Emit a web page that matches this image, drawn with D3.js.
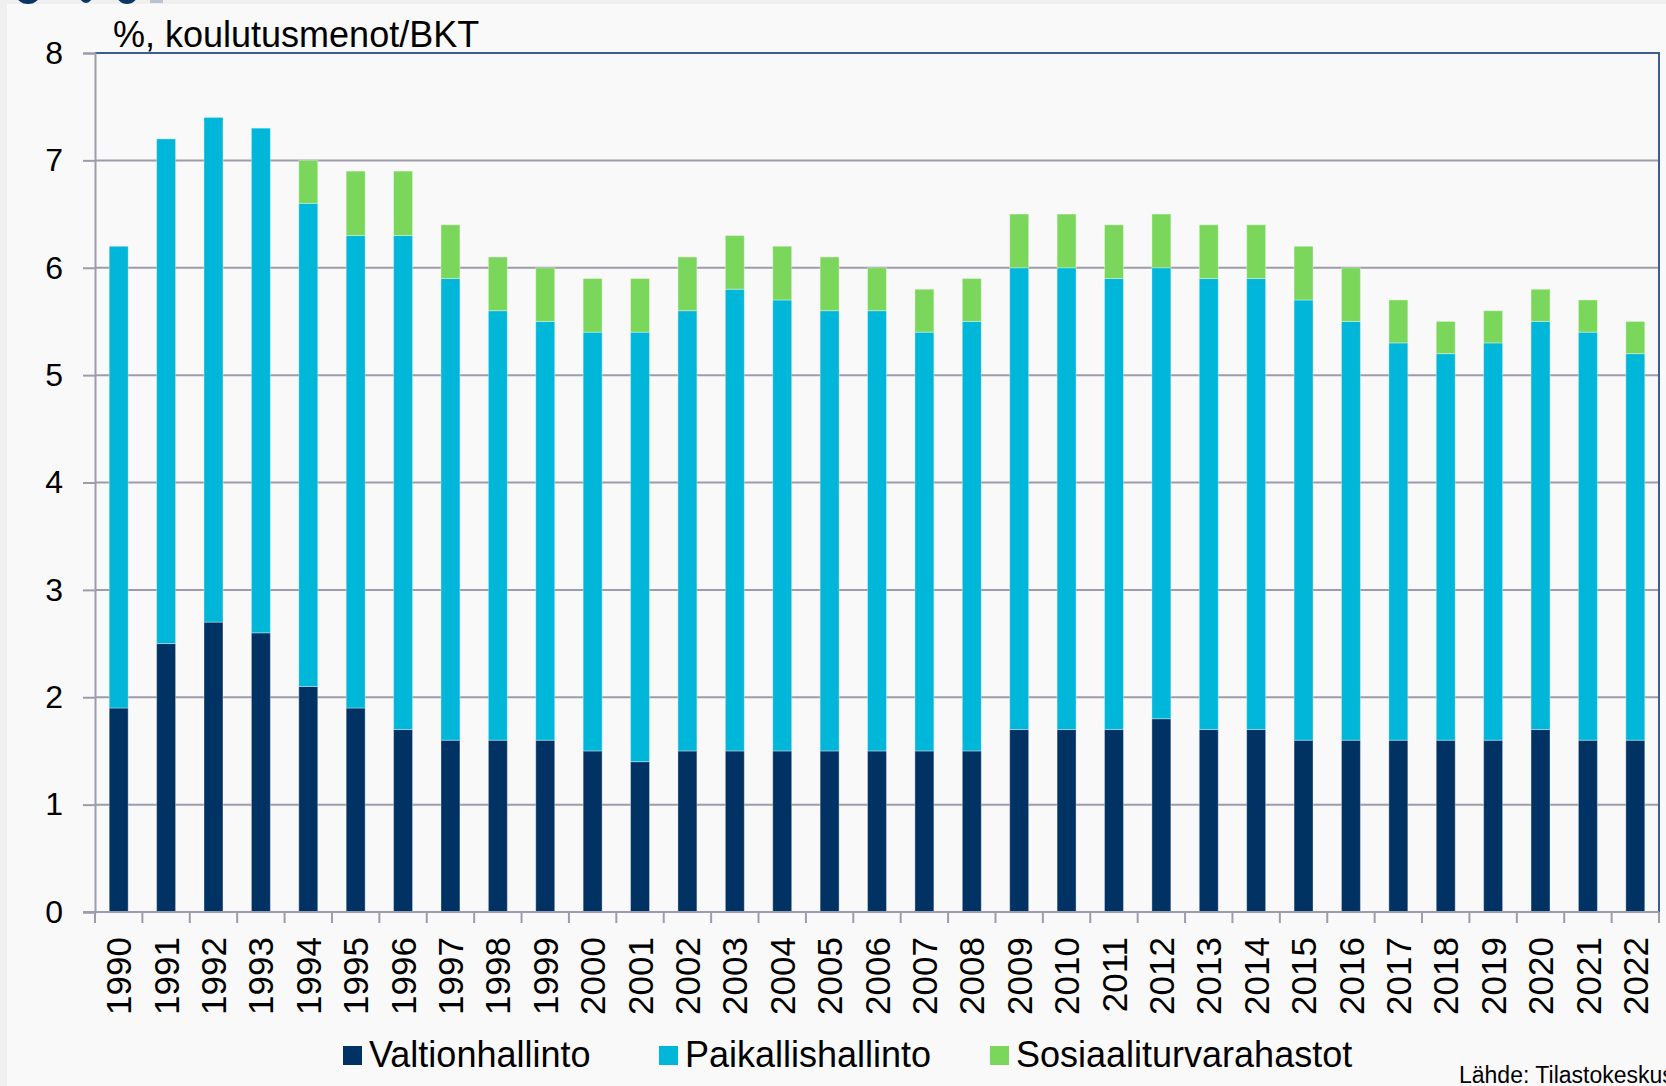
<!DOCTYPE html>
<html>
<head>
<meta charset="utf-8">
<script src="https://cdn.jsdelivr.net/npm/d3@7"></script>
<style>
  body { margin: 0; background: #efefef; }
  svg { display: block; }
</style>
</head>
<body>
<script>
// Data (% of GDP)
const years = d3.range(1990, 2023).map(String);
const valtionhallinto = [1.9, 2.5, 2.7, 2.6, 2.1, 1.9, 1.7, 1.6, 1.6, 1.6, 1.5, 1.4, 1.5, 1.5, 1.5, 1.5, 1.5, 1.5, 1.5, 1.7, 1.7, 1.7, 1.8, 1.7, 1.7, 1.6, 1.6, 1.6, 1.6, 1.6, 1.7, 1.6, 1.6];
const paikallishallinto = [4.3, 4.7, 4.7, 4.7, 4.5, 4.4, 4.6, 4.3, 4.0, 3.9, 3.9, 4.0, 4.1, 4.3, 4.2, 4.1, 4.1, 3.9, 4.0, 4.3, 4.3, 4.2, 4.2, 4.2, 4.2, 4.1, 3.9, 3.7, 3.6, 3.7, 3.8, 3.8, 3.6];
const sosiaaliturva = [0, 0, 0, 0, 0.4, 0.6, 0.6, 0.5, 0.5, 0.5, 0.5, 0.5, 0.5, 0.5, 0.5, 0.5, 0.4, 0.4, 0.4, 0.5, 0.5, 0.5, 0.5, 0.5, 0.5, 0.5, 0.5, 0.4, 0.3, 0.3, 0.3, 0.3, 0.3];
const seriesNames = ['Valtionhallinto', 'Paikallishallinto', 'Sosiaaliturvarahastot'];
const colors = ['#003263', '#00b6d9', '#7bd75b'];
const yTicks = [0, 1, 2, 3, 4, 5, 6, 7, 8];

const width = 1666, height = 1086;
const plot = { left: 95, right: 1659, top: 53, bottom: 912 };

const rows = years.map((y, i) => ({
  year: y,
  Valtionhallinto: valtionhallinto[i],
  Paikallishallinto: paikallishallinto[i],
  Sosiaaliturvarahastot: sosiaaliturva[i]
}));
const stacked = d3.stack().keys(seriesNames)(rows);

const svg = d3.select('body').append('svg')
  .attr('width', width)
  .attr('height', height)
  .style('font-family', 'Arial, "Liberation Sans", sans-serif');

// page panel
svg.append('rect').attr('x', 7).attr('y', 4).attr('width', width - 7).attr('height', height - 4).attr('fill', '#f9f9f9');

// bits of a logo cut off at the top
const logo = svg.append('g').attr('fill', '#0b3565');
logo.append('ellipse').attr('cx', 28).attr('cy', -8).attr('rx', 13).attr('ry', 12);
logo.append('ellipse').attr('cx', 86).attr('cy', -6).attr('rx', 7).attr('ry', 9);
logo.append('ellipse').attr('cx', 127).attr('cy', -7).attr('rx', 11).attr('ry', 11);
svg.append('rect').attr('x', 150).attr('y', 0).attr('width', 13).attr('height', 3).attr('fill', '#b9c4d2');

// Scales
const x = d3.scaleBand()
  .domain(years)
  .range([plot.left, plot.right])
  .paddingInner(0.6)
  .paddingOuter(0.3);

const y = d3.scaleLinear()
  .domain([0, 8])
  .range([plot.bottom, plot.top]);

const tickX = d3.scaleLinear()
  .domain([0, years.length])
  .range([plot.left, plot.right]);

// Gridlines
svg.append('g')
  .selectAll('line')
  .data(yTicks.filter(t => t > 0 && t < 8))
  .enter()
  .append('line')
  .attr('x1', plot.left)
  .attr('x2', plot.right)
  .attr('y1', d => y(d))
  .attr('y2', d => y(d))
  .attr('stroke', '#9c9cad')
  .attr('stroke-width', 2);

// Top and right frame
svg.append('path')
  .attr('d', `M${plot.left},${y(8)}H${plot.right}V${plot.bottom}`)
  .attr('fill', 'none')
  .attr('stroke', '#3b5f8e')
  .attr('stroke-width', 2);

// Bars
svg.append('g')
  .selectAll('g')
  .data(stacked)
  .enter()
  .append('g')
  .attr('fill', (d, i) => colors[i])
  .selectAll('rect')
  .data(d => d.filter(p => p[1] - p[0] > 0))
  .enter()
  .append('rect')
  .attr('x', d => x(d.data.year))
  .attr('y', d => y(d[1]))
  .attr('width', x.bandwidth())
  .attr('height', d => y(d[0]) - y(d[1]))
  .attr('stroke', 'rgba(255,255,255,0.35)')
  .attr('stroke-width', 1);

// Y axis
const yAxis = svg.append('g')
  .attr('transform', `translate(${plot.left},0)`)
  .call(d3.axisLeft(y).tickValues(yTicks).tickSize(12).tickPadding(20).tickFormat(d3.format('d')));
yAxis.select('.domain').attr('stroke', '#9c9cad').attr('stroke-width', 2);
yAxis.selectAll('.tick line').attr('stroke', '#9c9cad').attr('stroke-width', 2);
yAxis.selectAll('.tick text')
  .attr('fill', '#000')
  .style('font-size', '32px')
  .style('font-family', 'Arial, "Liberation Sans", sans-serif');

// X axis line and ticks at band edges
const xAxis = svg.append('g');
xAxis.append('line')
  .attr('x1', plot.left - 12).attr('x2', plot.right)
  .attr('y1', plot.bottom).attr('y2', plot.bottom)
  .attr('stroke', '#9c9cad').attr('stroke-width', 2);
xAxis.selectAll('line.tk')
  .data(d3.range(years.length + 1))
  .enter()
  .append('line')
  .attr('class', 'tk')
  .attr('x1', d => tickX(d)).attr('x2', d => tickX(d))
  .attr('y1', plot.bottom).attr('y2', plot.bottom + 11)
  .attr('stroke', '#9c9cad').attr('stroke-width', 2);

xAxis.selectAll('text')
  .data(years)
  .enter()
  .append('text')
  .attr('transform', d => `translate(${x(d) + x.bandwidth() / 2},${plot.bottom + 25}) rotate(-90)`)
  .attr('text-anchor', 'end')
  .attr('dy', '0.36em')
  .style('font-size', '35px')
  .attr('fill', '#000')
  .text(d => d);

// Title
svg.append('text')
  .attr('x', 113)
  .attr('y', 47)
  .style('font-size', '36px')
  .attr('fill', '#000')
  .text('%, koulutusmenot/BKT');

// Legend
const legendX = [343, 659, 990];
const legend = svg.append('g')
  .selectAll('g')
  .data(seriesNames)
  .enter()
  .append('g')
  .attr('transform', (d, i) => `translate(${legendX[i]},1046)`);
legend.append('rect')
  .attr('width', 19)
  .attr('height', 19)
  .attr('fill', (d, i) => colors[i]);
legend.append('text')
  .attr('x', 26)
  .attr('y', 21)
  .style('font-size', '36px')
  .attr('fill', '#000')
  .text(d => d);

// Source
svg.append('text')
  .attr('x', 1459)
  .attr('y', 1083)
  .style('font-size', '23px')
  .style('font-family', '"Liberation Sans Narrow", "Arial Narrow", Arial, sans-serif')
  .attr('fill', '#000')
  .text('Lähde: Tilastokeskus');
</script>
</body>
</html>
